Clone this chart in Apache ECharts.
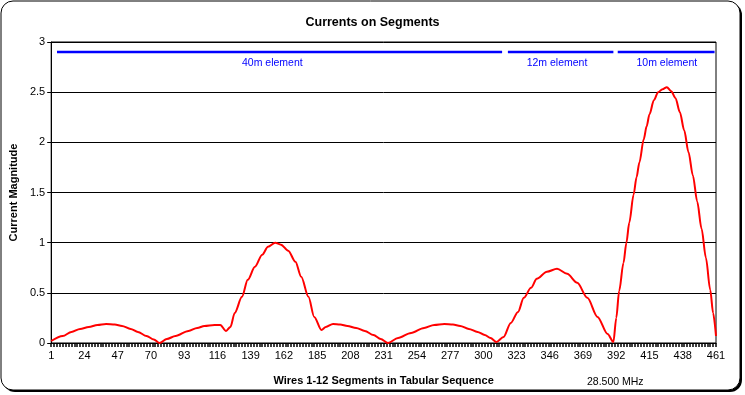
<!DOCTYPE html>
<html>
<head>
<meta charset="utf-8">
<script src="https://cdn.jsdelivr.net/npm/echarts@6/dist/echarts.min.js"></script>
<style>html,body{margin:0;padding:0;background:#fff}#c{width:745px;height:395px}</style>
</head>
<body>
<div id="c"></div>
<script>
// Segment numbers (1-based) and current magnitudes
var segments = [1,9,15,21,27,33,39,45,50,56,61,67,72,76,81,87,96,102,107,114,118,122,125,128,133,137,142,147,151,156,160,165,170,174,179,183,188,191,196,201,206,212,218,224,229,234,241,250,259,266,273,279,284,290,296,301,305,309,314,319,324,328,333,337,344,351,358,365,372,379,386,390,392,394,397,399,401,404,406,408,411,413,415,418,421,424,427,430,433,436,439,442,445,448,451,454,457,459,461];
var currents = [0.02,0.07,0.11,0.14,0.16,0.18,0.19,0.185,0.17,0.14,0.11,0.07,0.035,0.0,0.04,0.07,0.12,0.15,0.17,0.18,0.18,0.12,0.16,0.30,0.46,0.63,0.76,0.88,0.96,1.00,0.98,0.92,0.81,0.66,0.46,0.26,0.13,0.16,0.19,0.185,0.17,0.15,0.12,0.08,0.04,0.0,0.05,0.10,0.15,0.18,0.19,0.185,0.17,0.14,0.11,0.08,0.05,0.01,0.06,0.20,0.31,0.45,0.55,0.64,0.71,0.74,0.69,0.60,0.45,0.26,0.09,0.01,0.25,0.52,0.80,1.00,1.20,1.48,1.65,1.80,2.03,2.16,2.28,2.42,2.50,2.53,2.55,2.51,2.44,2.30,2.12,1.90,1.67,1.41,1.14,0.85,0.53,0.30,0.07];
// Element marker bars: [start segment, label segment, end segment]
var elementNames = ['40m element','12m element','10m element'];
var elementStart = [5,317,393];
var elementLabelAt = [154,351,427];
var elementEnd = [313,390,460];
var elementLevel = 2.9;
var categories = [];
for (var s = 1; s <= 461; s++) categories.push(String(s));

var curData = segments.map(function(sg, i){ return [sg - 1, currents[i]]; });
var elementSeries = elementNames.map(function(name, k){
  return {
    type: 'line', name: name, silent: true, symbol: 'circle', symbolSize: 1, showSymbol: true, showAllSymbol: true,
    lineStyle: {color: '#0000ff', width: 2.5},
    itemStyle: {color: 'rgba(0,0,0,0)'},
    label: {show: false},
    labelLayout: {hideOverlap: false},
    data: [
      [elementStart[k]-1, elementLevel],
      {value: [elementLabelAt[k]-1, elementLevel], label: {show: true, formatter: name, position: 'bottom', distance: 5, color: '#0000ff', fontSize: 10.5, fontFamily: 'Liberation Sans, Arial'}},
      [elementEnd[k]-1, elementLevel]
    ],
    z: 3
  };
});

var chart = echarts.init(document.getElementById('c'), null, {renderer: 'canvas'});
chart.setOption({
  animation: false,
  backgroundColor: 'transparent',
  textStyle: {fontFamily: 'Liberation Sans, Arial'},
  title: {
    text: 'Currents on Segments', left: 'center', top: 11,
    textStyle: {fontSize: 12.5, fontWeight: 'bold', color: '#000', fontFamily: 'Liberation Sans, Arial'}
  },
  graphic: [
    {type: 'rect', shape: {x: 3, y: 3, width: 739, height: 389, r: 12}, style: {fill: '#000'}, z: -10, silent: true},
    {type: 'rect', shape: {x: 1, y: 1, width: 739, height: 389, r: 12}, style: {fill: '#fff', stroke: '#000', lineWidth: 1}, z: -9, silent: true},
    {type: 'text', left: 587, top: 377, style: {text: '28.500 MHz', fontSize: 10.5, fill: '#000', fontFamily: 'Liberation Sans, Arial'}, z: 5}
  ],
  grid: {left: 49, right: 29, top: 42, bottom: 52, show: true, borderColor: '#000', borderWidth: 1, backgroundColor: 'transparent'},
  xAxis: {
    type: 'category', data: categories, boundaryGap: false,
    name: 'Wires 1-12 Segments in Tabular Sequence', nameLocation: 'middle', nameGap: 32,
    nameTextStyle: {fontSize: 11, fontWeight: 'bold', color: '#000'},
    axisLine: {lineStyle: {color: '#000', width: 1}},
    axisTick: {show: true, interval: 1, length: 4, lineStyle: {color: '#000', width: 1.5}},
    axisLabel: {interval: 22, color: '#000', fontSize: 11, margin: 7},
    splitLine: {show: false}
  },
  yAxis: {
    type: 'value', min: 0, max: 3, interval: 0.5,
    name: 'Current Magnitude', nameLocation: 'middle', nameGap: 29, nameRotate: 90,
    nameTextStyle: {fontSize: 11, fontWeight: 'bold', color: '#000'},
    axisLine: {show: true, lineStyle: {color: '#000', width: 1}},
    axisTick: {show: true, length: 4, lineStyle: {color: '#000'}},
    axisLabel: {color: '#000', fontSize: 11, margin: 6},
    splitLine: {show: true, lineStyle: {color: '#000', width: 1}}
  },
  series: [
    {
      type: 'line', name: 'Current', data: curData, symbol: 'none', smooth: 0.3, smoothMonotone: 'x',
      lineStyle: {color: '#ff0000', width: 2}, z: 4
    }
  ].concat(elementSeries)
});
</script>
</body>
</html>
